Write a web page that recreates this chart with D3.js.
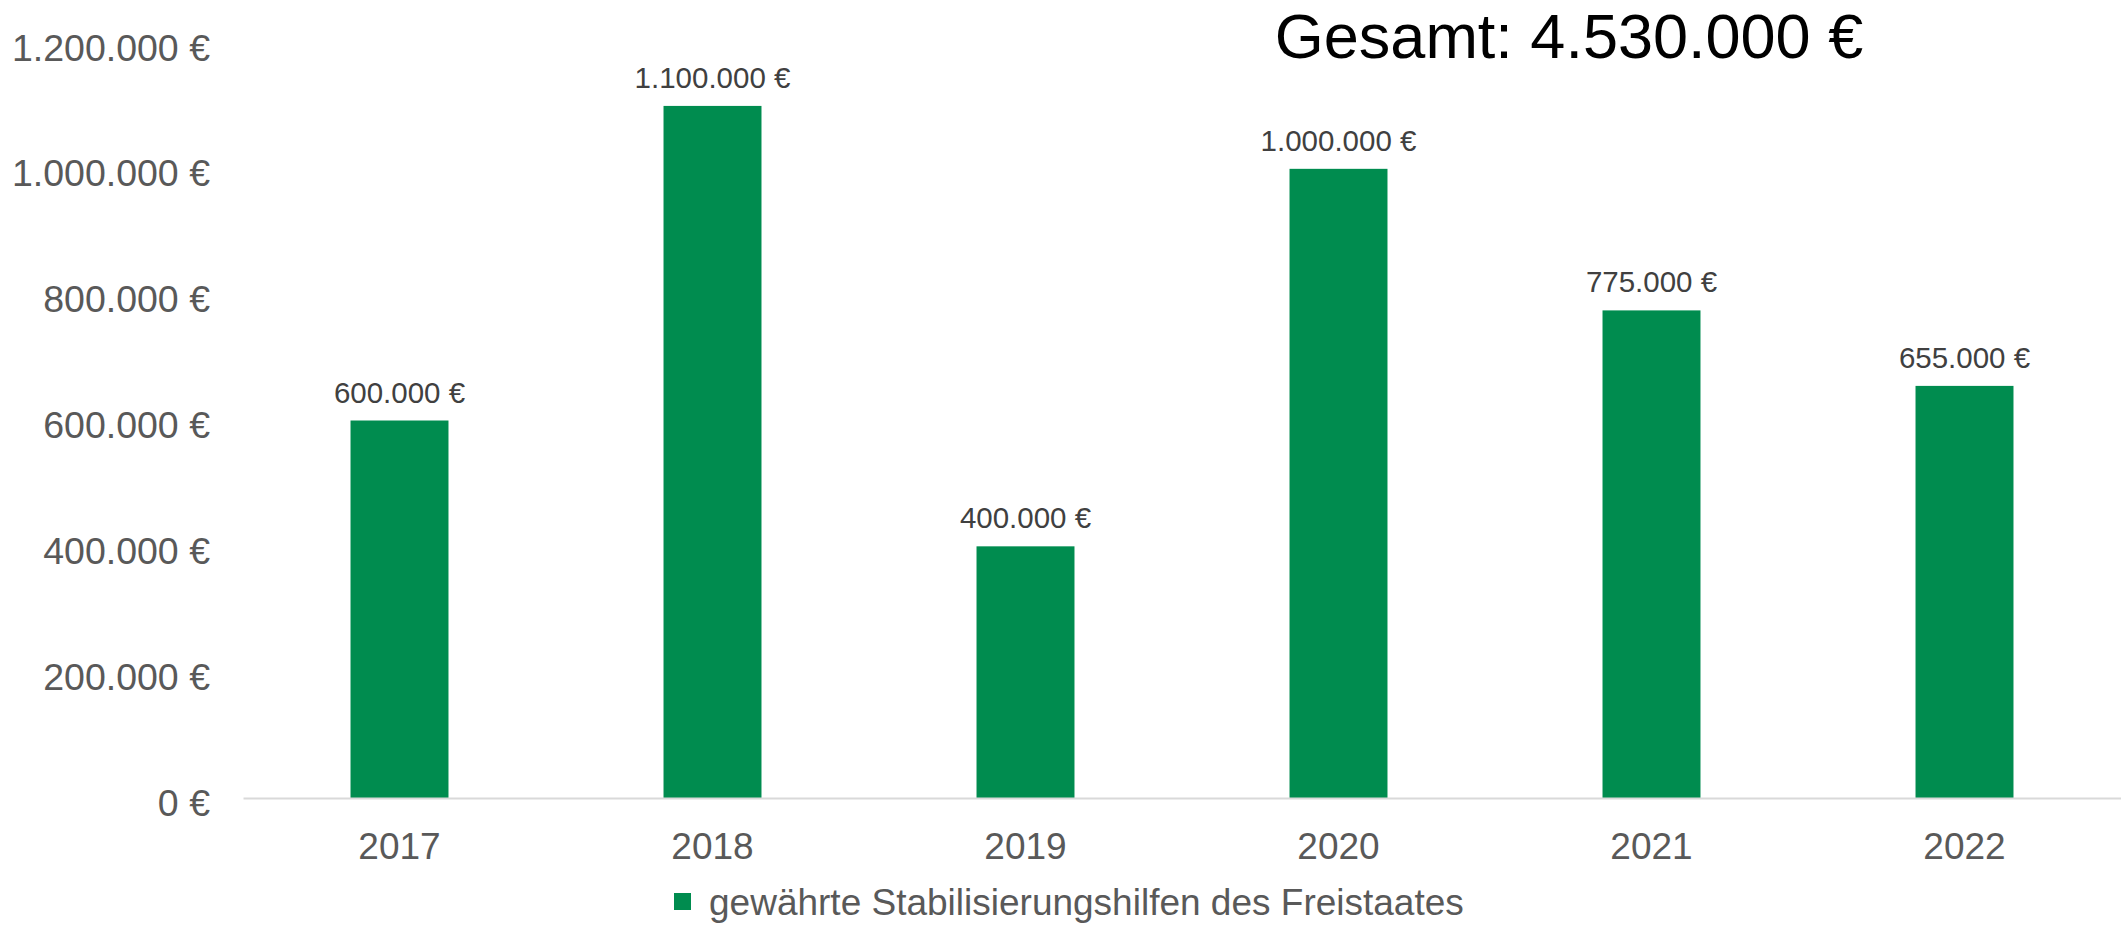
<!DOCTYPE html>
<html>
<head>
<meta charset="utf-8">
<script src="https://cdn.jsdelivr.net/npm/d3@7"></script>
<style>
  body { margin: 0; background: #fff; }
  text { font-family: "Liberation Sans", Arial, sans-serif; }
</style>
</head>
<body>
<div id="chart"></div>
<script>
// Daten
const years = ["2017", "2018", "2019", "2020", "2021", "2022"]
const values = [600000, 1100000, 400000, 1000000, 775000, 655000]
const yTicks = [0, 200000, 400000, 600000, 800000, 1000000, 1200000]
const seriesName = "gewährte Stabilisierungshilfen des Freistaates"
const totalLabel = "Gesamt: 4.530.000 €"

const width = 2121, height = 927
const margin = {top: 43, right: 0, bottom: 129, left: 243}

const svg = d3.select("#chart")
  .append("svg")
    .attr("width", width)
    .attr("height", height)

// Zahlenformat mit Punkt als Tausendertrennzeichen
const de = d3.formatLocale({decimal: ",", thousands: ".", grouping: [3], currency: ["", " €"]})
const fmt = v => de.format(",")(v) + " €"

const x = d3.scaleBand()
  .domain(years)
  .range([margin.left, width - margin.right])
  .paddingInner(0.687)
  .paddingOuter(0.3435)

const y = d3.scaleLinear()
  .domain([0, 1200000])
  .range([height - margin.bottom, margin.top])

// Y-Achse (nur Beschriftungen)
const yAxis = svg.append("g")
  .attr("transform", `translate(${margin.left - 33},5)`)
  .call(d3.axisLeft(y).tickValues(yTicks).tickFormat(fmt).tickSize(0).tickPadding(0))
yAxis.select(".domain").remove()
yAxis.selectAll("text")
  .attr("fill", "#595959")
  .attr("font-size", 37.5)
  .attr("font-family", "'Liberation Sans', Arial, sans-serif")

// Balken
svg.append("g")
  .selectAll("rect")
  .data(values)
  .join("rect")
    .attr("x", (d, i) => x(years[i]))
    .attr("y", d => y(d))
    .attr("width", x.bandwidth())
    .attr("height", d => y(0) - y(d))
    .attr("fill", "#008c4f")

// Datenbeschriftungen
svg.append("g")
  .selectAll("text")
  .data(values)
  .join("text")
    .attr("x", (d, i) => x(years[i]) + x.bandwidth() / 2)
    .attr("y", d => y(d) - 18)
    .attr("text-anchor", "middle")
    .attr("font-size", 29.5)
    .attr("fill", "#404040")
    .text(fmt)

// X-Achse
const xAxis = svg.append("g")
  .attr("transform", `translate(0,${y(0)})`)
  .call(d3.axisBottom(x).tickSize(0).tickPadding(35))
xAxis.select(".domain")
  .attr("stroke", "#d9d9d9")
  .attr("stroke-width", 2)
xAxis.selectAll("text")
  .attr("fill", "#595959")
  .attr("font-size", 37)
  .attr("font-family", "'Liberation Sans', Arial, sans-serif")

// Legende
const legend = svg.append("g").attr("transform", "translate(674,893)")
legend.append("rect")
  .attr("width", 17)
  .attr("height", 17)
  .attr("fill", "#008c4f")
legend.append("text")
  .attr("x", 35)
  .attr("y", 9)
  .attr("dy", "0.35em")
  .attr("font-size", 37)
  .attr("fill", "#595959")
  .text(seriesName)

// Gesamtsumme
svg.append("text")
  .attr("x", 1569)
  .attr("y", 58)
  .attr("text-anchor", "middle")
  .attr("font-size", 63)
  .attr("fill", "#000")
  .text(totalLabel)
</script>
</body>
</html>
